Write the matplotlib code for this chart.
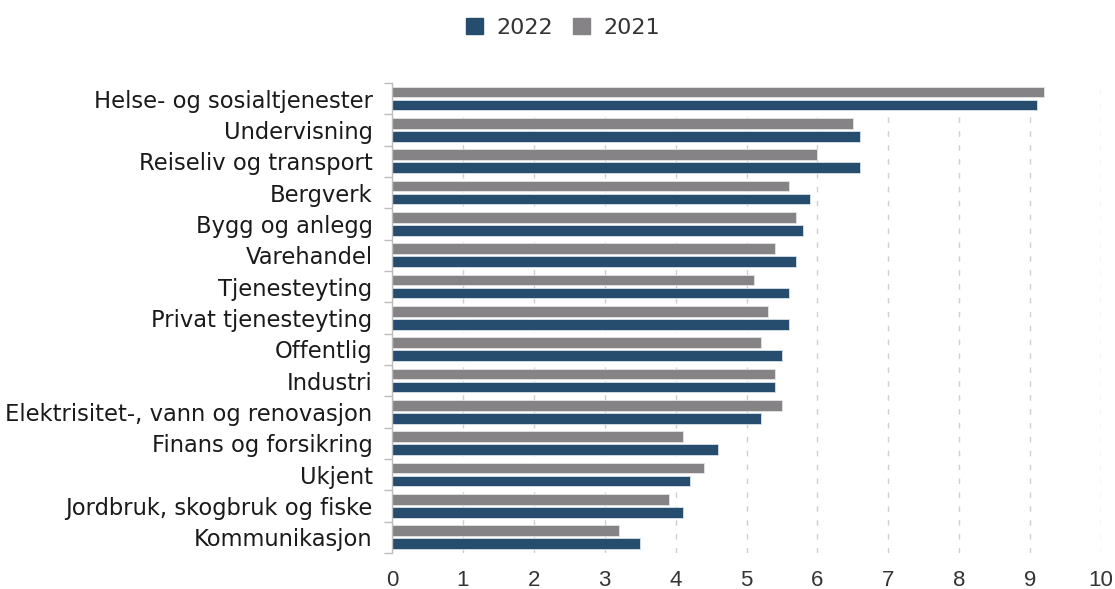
import matplotlib
matplotlib.use("Agg")
import matplotlib.pyplot as plt
import numpy as np
from matplotlib.patches import Patch

categories = ["Helse- og sosialtjenester", "Undervisning", "Reiseliv og transport", "Bergverk",
              "Bygg og anlegg", "Varehandel", "Tjenesteyting", "Privat tjenesteyting", "Offentlig",
              "Industri", "Elektrisitet-, vann og renovasjon", "Finans og forsikring", "Ukjent",
              "Jordbruk, skogbruk og fiske", "Kommunikasjon"]
values_2022 = [9.1, 6.6, 6.6, 5.9, 5.8, 5.7, 5.6, 5.6, 5.5, 5.4, 5.2, 4.6, 4.2, 4.1, 3.5]
values_2021 = [9.2, 6.5, 6.0, 5.6, 5.7, 5.4, 5.1, 5.3, 5.2, 5.4, 5.5, 4.1, 4.4, 3.9, 3.2]
xticks = [0, 1, 2, 3, 4, 5, 6, 7, 8, 9, 10]

plt.rcParams['font.family'] = ['DejaVu Sans']

c22 = '#264d6e'
c21 = '#858385'

fig = plt.figure(figsize=(11.15, 5.89), dpi=100)
ax = fig.add_axes([392/1115, 1-553/589, (1101-392)/1115, (553-83)/589])

y = np.arange(len(categories))
h = 0.34
ax.barh(y - 0.212, values_2021, height=h, color=c21, edgecolor='#e4e4e4', linewidth=0.6, zorder=3)
ax.barh(y + 0.205, values_2022, height=h, color=c22, edgecolor='#d8e2ea', linewidth=0.6, zorder=3)

ax.set_ylim(len(categories) - 0.5, -0.5)
ax.set_xlim(0, 10)
ax.set_xticks(xticks)
ax.set_xticklabels([str(t) for t in xticks], family=['Liberation Sans', 'DejaVu Sans'])
ax.set_yticks(y)
ax.set_yticklabels(categories)
ax.set_yticks(np.arange(-0.5, len(categories), 1.0), minor=True)

ax.tick_params(axis='y', which='major', length=0, pad=14, labelsize=16.3, labelcolor='#1a1a1a')
ax.tick_params(axis='y', which='minor', length=6, color='#bdbdbd', width=1)
ax.tick_params(axis='x', which='major', length=0, pad=12, labelsize=16, labelcolor='#333333')

for s in ['top', 'right', 'bottom']:
    ax.spines[s].set_visible(False)
ax.spines['left'].set_color('#bdbdbd')
ax.spines['left'].set_linewidth(1)
ax.spines['left'].set_zorder(4)

ax.grid(axis='x', color='#d0d0d0', linestyle=(0, (4, 6)), linewidth=1, zorder=0)
ax.set_axisbelow(True)

handles = [Patch(facecolor=c22, edgecolor=c22), Patch(facecolor=c21, edgecolor=c21)]
fig.legend(handles, ['2022', '2021'], loc='center', bbox_to_anchor=(563/1115, 1-28/589),
           ncol=2, frameon=False, fontsize=16, handlelength=0.75, handleheight=0.75,
           handletextpad=0.6, columnspacing=0.9, labelcolor='#333333')

fig.savefig('out.png', dpi=100, facecolor='white')
